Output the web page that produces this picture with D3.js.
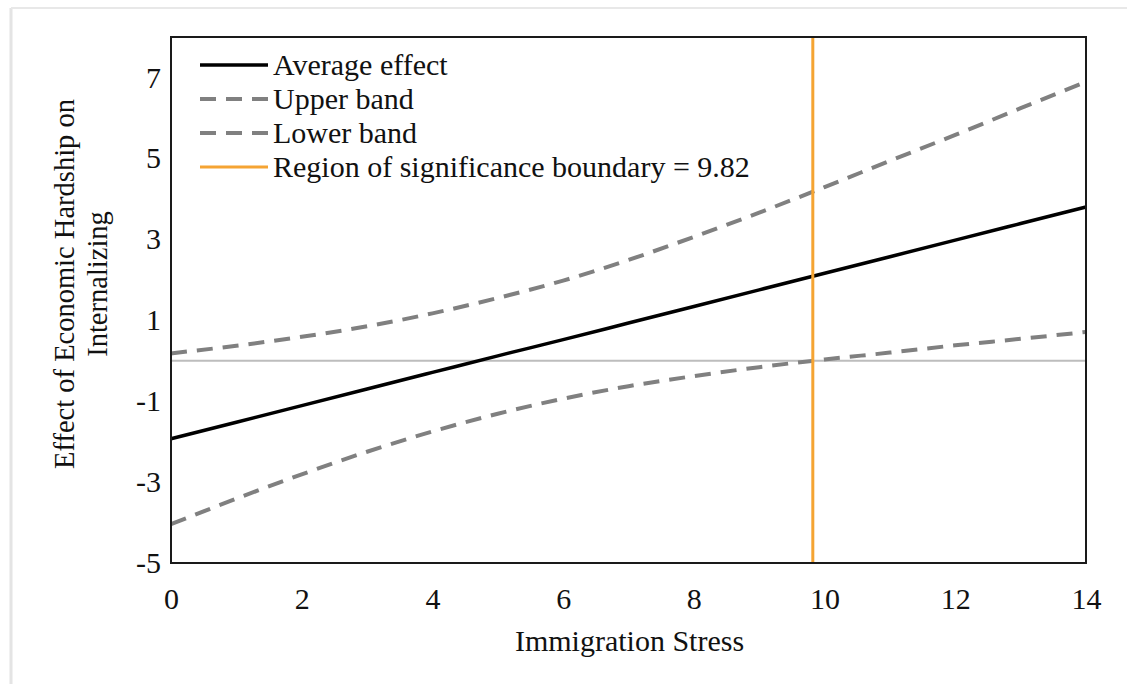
<!DOCTYPE html>
<html>
<head>
<meta charset="utf-8">
<script src="https://cdn.jsdelivr.net/npm/d3@7"></script>
<style>
  html, body { margin: 0; padding: 0; background: #ffffff; }
  svg { display: block; }
  text { font-family: "Liberation Serif", "Times New Roman", serif; fill: #111; }
</style>
</head>
<body>
<svg id="chart" width="1127" height="684"></svg>
<script>
// Immigration stress values (x) at which effects were evaluated
const stress = [0, 1, 2, 3, 4, 5, 6, 7, 8, 9, 10, 11, 12, 13, 14];
// Conditional effect of economic hardship on internalizing
const averageEffect = [-1.93, -1.52, -1.11, -0.70, -0.29, 0.12, 0.52, 0.93, 1.34, 1.75, 2.16, 2.57, 2.98, 3.39, 3.80];
const upperBand = [0.18, 0.37, 0.59, 0.85, 1.17, 1.55, 1.98, 2.49, 3.06, 3.66, 4.29, 4.94, 5.58, 6.24, 6.89];
const lowerBand = [-4.04, -3.41, -2.81, -2.25, -1.75, -1.31, -0.94, -0.63, -0.38, -0.16, 0.03, 0.20, 0.38, 0.54, 0.71];
const boundary = 9.82;
const xTicks = [0, 2, 4, 6, 8, 10, 12, 14];
const yTicks = [-5, -3, -1, 1, 3, 5, 7];
const legendLabels = ["Average effect", "Upper band", "Lower band", "Region of significance boundary = 9.82"];

const svg = d3.select("#chart");
const plot = { left: 171, right: 1086, top: 37, bottom: 563 };

const x = d3.scaleLinear().domain([0, 14]).range([plot.left, plot.right]);
const y = d3.scaleLinear().domain([-5, 8]).range([plot.bottom, plot.top]);

// plain hyphen for negatives
const tickFmt = d => String(d);

// faint page frame
svg.append("line").attr("x1", 11).attr("x2", 11).attr("y1", 8).attr("y2", 684)
  .attr("stroke", "#e4e4e4").attr("stroke-width", 3);
svg.append("line").attr("x1", 11).attr("x2", 1127).attr("y1", 8).attr("y2", 8)
  .attr("stroke", "#e8e8e8").attr("stroke-width", 2);

// zero reference line
svg.append("line")
  .attr("x1", x(0)).attr("x2", x(14))
  .attr("y1", y(0)).attr("y2", y(0))
  .attr("stroke", "#bdbdbd").attr("stroke-width", 2);

const line = d3.line().x((d, i) => x(stress[i])).y(d => y(d)).curve(d3.curveMonotoneX);

// confidence bands
[upperBand, lowerBand].forEach(band => {
  svg.append("path").datum(band)
    .attr("d", line)
    .attr("fill", "none")
    .attr("stroke", "#808080")
    .attr("stroke-width", 4)
    .attr("stroke-dasharray", "16 10");
});

// average effect
svg.append("path").datum(averageEffect)
  .attr("d", line)
  .attr("fill", "none")
  .attr("stroke", "#000")
  .attr("stroke-width", 3.5);

// region of significance boundary
svg.append("line")
  .attr("x1", x(boundary)).attr("x2", x(boundary))
  .attr("y1", y(8)).attr("y2", y(-5))
  .attr("stroke", "#f5a433").attr("stroke-width", 3);

// plot frame
svg.append("rect")
  .attr("x", plot.left).attr("y", plot.top)
  .attr("width", plot.right - plot.left).attr("height", plot.bottom - plot.top)
  .attr("fill", "none").attr("stroke", "#1a1a1a").attr("stroke-width", 2);

// axes (labels only, no tick marks)
const xAxis = svg.append("g").attr("transform", `translate(0,${plot.bottom})`)
  .call(d3.axisBottom(x).tickValues(xTicks).tickSize(0).tickPadding(25).tickFormat(tickFmt));
xAxis.select(".domain").remove();
xAxis.selectAll("text").style("font-family", "Liberation Serif").style("font-size", "30px").attr("fill", "#111");

const yAxis = svg.append("g").attr("transform", `translate(${plot.left},0)`)
  .call(d3.axisLeft(y).tickValues(yTicks).tickSize(0).tickPadding(10).tickFormat(tickFmt));
yAxis.select(".domain").remove();
yAxis.selectAll("text").style("font-family", "Liberation Serif").style("font-size", "30px").attr("fill", "#111");

// axis titles
svg.append("text")
  .attr("x", (plot.left + plot.right) / 2 + 1).attr("y", 651)
  .attr("text-anchor", "middle")
  .style("font-size", "30px")
  .text("Immigration Stress");

const yTitle = svg.append("text")
  .attr("transform", "translate(74,284) rotate(-90)")
  .attr("text-anchor", "middle")
  .style("font-size", "28.5px");
yTitle.append("tspan").attr("x", 0).attr("y", 0).text("Effect of Economic Hardship on");
yTitle.append("tspan").attr("x", 0).attr("y", 33).text("Internalizing");

// legend
const legendStyles = [
  { stroke: "#000", width: 3.5, dash: null },
  { stroke: "#808080", width: 4, dash: "16 10" },
  { stroke: "#808080", width: 4, dash: "16 10" },
  { stroke: "#f5a433", width: 3, dash: null }
];
const legend = svg.append("g");
legendLabels.forEach((label, i) => {
  const rowY = 65 + i * 34;
  const s = legendStyles[i];
  legend.append("line")
    .attr("x1", 200).attr("x2", 268).attr("y1", rowY).attr("y2", rowY)
    .attr("stroke", s.stroke).attr("stroke-width", s.width)
    .attr("stroke-dasharray", s.dash);
  legend.append("text")
    .attr("x", 273).attr("y", rowY + 10)
    .style("font-size", "30px")
    .text(label);
});
</script>
</body>
</html>
